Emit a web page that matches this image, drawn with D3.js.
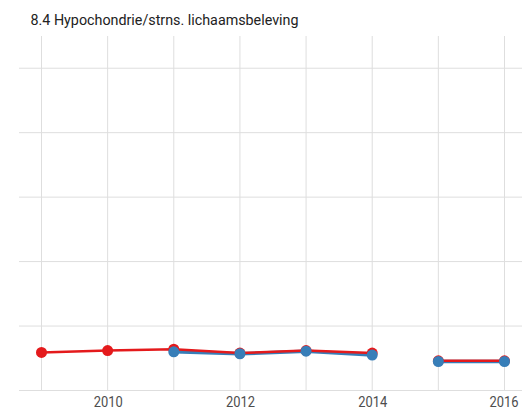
<!DOCTYPE html>
<html>
<head>
<meta charset="utf-8">
<script src="https://d3js.org/d3.v7.min.js"></script>
<style>
  body { margin: 0; background: #fff; }
  svg { display: block; }
</style>
</head>
<body>
<div id="chart"></div>
<script>
// data
var years = [2009, 2010, 2011, 2012, 2013, 2014, 2015, 2016];
var periods = ["a", "a", "a", "a", "a", "a", "b", "b"];   // line breaks between 2014 and 2015
var redValues = [0.59, 0.62, 0.64, 0.58, 0.62, 0.58, 0.46, 0.46];
var blueValues = [null, null, 0.60, 0.57, 0.61, 0.55, 0.45, 0.45];
var xTickLabels = [2010, 2012, 2014, 2016];
var yGrid = [0, 1, 2, 3, 4, 5];
var title = "8.4 Hypochondrie/strns. lichaamsbeleving";

var width = 522;
var height = 411;

var svg = d3.select("#chart").append("svg")
    .attr("width", width)
    .attr("height", height);

var xScale = d3.scaleLinear()
    .domain([2009, 2016])
    .range([41.5, 504.5]);

var yScale = d3.scaleLinear()
    .domain([0, 5.5])
    .range([390.5, 36]);

var panelLeft = 19, panelRight = 527;

// grid
svg.append("g")
    .selectAll("line")
    .data(yGrid)
    .enter()
    .append("line")
    .attr("x1", panelLeft)
    .attr("x2", panelRight)
    .attr("y1", function(d) { return yScale(d); })
    .attr("y2", function(d) { return yScale(d); })
    .attr("stroke", "#dedede")
    .attr("stroke-width", 1);

svg.append("g")
    .selectAll("line")
    .data(years)
    .enter()
    .append("line")
    .attr("x1", function(d) { return xScale(d); })
    .attr("x2", function(d) { return xScale(d); })
    .attr("y1", yScale(5.5))
    .attr("y2", yScale(0))
    .attr("stroke", "#dedede")
    .attr("stroke-width", 1);

// x axis labels
var axisx = d3.axisBottom(xScale)
    .tickValues(xTickLabels)
    .tickFormat(d3.format("d"))
    .tickSize(0)
    .tickPadding(0);

var gx = svg.append("g")
    .attr("transform", "translate(0," + 396 + ")")
    .call(axisx);
gx.select(".domain").remove();
gx.selectAll("text")
    .attr("dy", "0.71em")
    .attr("fill", "#4d4d4d")
    .attr("font-family", "Roboto, sans-serif")
    .attr("font-size", "15px")
    .attr("textLength", 29)
    .attr("lengthAdjust", "spacingAndGlyphs");
// last label sits against the right edge
gx.selectAll("text")
    .filter(function(d) { return d === 2016; })
    .attr("text-anchor", "end")
    .attr("x", 13.5);

// title
svg.append("text")
    .attr("x", 30.5)
    .attr("y", 25)
    .attr("fill", "#222")
    .attr("font-family", "Roboto, sans-serif")
    .attr("font-size", "15.5px")
    .attr("textLength", 268)
    .attr("lengthAdjust", "spacingAndGlyphs")
    .text(title);

function seriesData(values) {
    return years.map(function(y, i) {
        return { year: y, value: values[i], period: periods[i] };
    }).filter(function(d) { return d.value !== null; });
}

var red = seriesData(redValues);
var blue = seriesData(blueValues);

var line = d3.line()
    .x(function(d) { return xScale(d.year); })
    .y(function(d) { return yScale(d.value); });

function drawLines(data, color, w) {
    var groups = d3.groups(data, function(d) { return d.period; });
    svg.append("g")
        .selectAll("path")
        .data(groups)
        .enter()
        .append("path")
        .attr("fill", "none")
        .attr("stroke", color)
        .attr("stroke-width", w)
        .attr("d", function(g) { return line(g[1]); });
}

function drawPoints(data, color) {
    svg.append("g")
        .selectAll("circle")
        .data(data)
        .enter()
        .append("circle")
        .attr("cx", function(d) { return xScale(d.year); })
        .attr("cy", function(d) { return yScale(d.value); })
        .attr("r", 5.5)
        .attr("fill", color);
}

drawLines(blue, "#377eb8", 3.5);
drawLines(red, "#e41a1c", 2.5);
drawPoints(red, "#e41a1c");
drawPoints(blue, "#377eb8");
</script>
</body>
</html>
